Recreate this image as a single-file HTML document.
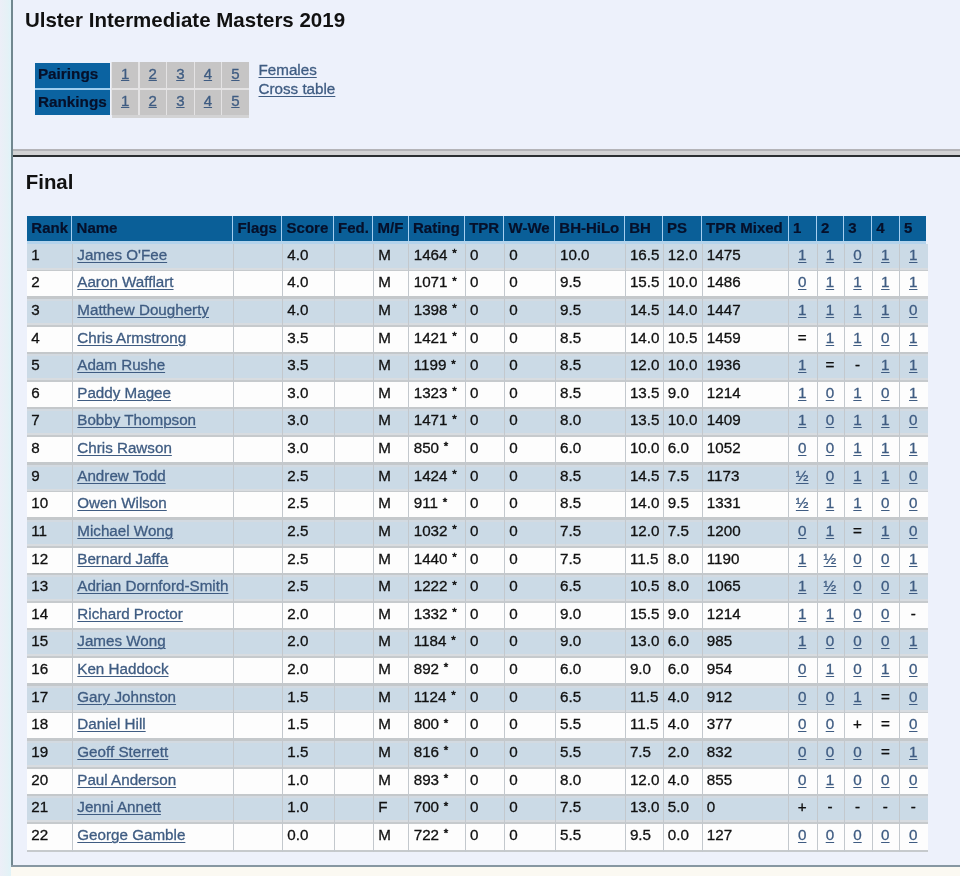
<!DOCTYPE html>
<html><head><meta charset="utf-8"><title>Ulster Intermediate Masters 2019</title>
<style>
*{margin:0;padding:0;box-sizing:border-box}
html,body{width:960px;height:876px;overflow:hidden;background:#fbf9f2}
body{position:relative;font-family:"Liberation Sans",sans-serif;color:#111}
.row .c, .links, #nav .g{-webkit-text-stroke:0.3px currentColor}
#strip{position:absolute;left:0;top:0;width:11px;height:876px;background:linear-gradient(90deg,#eceff8 0,#e6f1f6 60%,#e0f3f8 100%)}
#vline{position:absolute;left:11px;top:0;width:2px;height:867px;background:#71878f}
#content{position:absolute;left:13px;top:0;width:947px;height:865px;background:#edf1fb}
#bline{position:absolute;left:11px;top:865px;width:949px;height:2px;background:#8797a2}
#wrap{position:absolute;left:0;top:0;width:960px;height:876px;will-change:transform}
h1{position:absolute;font-size:20.4px;font-weight:bold;line-height:1;white-space:nowrap;color:#111}
#sep1{position:absolute;left:13px;top:149px;width:947px;height:1.5px;background:#b4b4b8}
#sep2{position:absolute;left:13px;top:150.5px;width:947px;height:4.7px;background:#d2d2d4}
#sep3{position:absolute;left:13px;top:155.2px;width:947px;height:1.8px;background:#2a2e32}
#nav{position:absolute;left:34.5px;top:62.5px;width:214.5px;height:55px}
#nav .b{position:absolute;left:0;width:75.7px;height:25.3px;background:#0b63a1;color:#06102a;-webkit-text-stroke:0.2px #06102a;font-weight:bold;font-size:15.3px;line-height:23px;padding-left:3.4px}
#nav .g{position:absolute;background:#c6c5c5;text-align:center;font-size:15px;line-height:22.5px}
#nav .gb{position:absolute;left:77.5px;top:52.3px;width:136.8px;height:3px;background:#d3d3d4}
#nav a{text-underline-offset:1.4px}
a{color:#3f5c82;text-decoration:underline;text-underline-offset:1.9px;text-decoration-thickness:1.2px}
.links{position:absolute;left:258.5px;font-size:15.2px;line-height:19.2px}
#tbl{position:absolute;left:27px;top:216px;width:901px;height:640px;}
.row{position:absolute;left:0;width:900.5px}
.row .c{position:absolute;top:0;height:24.625px;padding-left:4.3px;font-size:15.2px;line-height:22.6px;white-space:nowrap}
.row .c.r{text-align:center;padding-left:0;padding-right:1.4px}
.s{-webkit-text-stroke:0.35px #111}
.ast{font-size:11.5px;position:relative;top:-2.6px;left:0.6px;-webkit-text-stroke:0.5px #111}
.hdr{background:#0a5f98;width:899px;height:24.9px}
.hdr .c{font-weight:bold;color:#06102a;font-size:15px;height:24.9px;line-height:23.3px;-webkit-text-stroke:0.2px #06102a;border-left:1.4px solid #a6cff0}
.hdr .c:first-child{border-left:none}
.odd{background:linear-gradient(#d3dae1 0,#d3dae1 1.8px,#cbdae6 1.8px,#cbdae6 24.4px,#d8dce0 24.4px,#d8dce0 26.2px,#c6cacd 26.2px)}
.odd.first{background:linear-gradient(#cbdae6 0,#cbdae6 24.4px,#d8dce0 24.4px,#d8dce0 26.2px,#c6cacd 26.2px)}
.even{background:linear-gradient(#fdfdfd 0,#fdfdfd 25.3px,#c4c8cb 25.3px)}
.even.last{background:linear-gradient(#fdfdfd 0,#fdfdfd 25.9px,#c6cacd 25.9px,#c6cacd 28.4px,transparent 28.4px)}
.odd .c,.even .c{border-left:1px solid #c3c8cd;height:100%}
.odd .c:first-child,.even .c:first-child{border-left:none}
.hline{position:absolute;left:0;width:899px;background:#b3d3ec}
</style></head>
<body>
<div id="wrap">
<div id="strip"></div>
<div id="content"></div>
<div id="vline"></div>
<div id="bline"></div>
<h1 style="left:24.9px;top:9.9px;font-size:20.5px">Ulster Intermediate Masters 2019</h1>
<div id="nav">
<div style="position:absolute;left:0;top:24px;width:75.7px;height:5px;background:#9fcdee"></div>
<div style="position:absolute;left:76px;top:-0.5px;width:138.3px;height:53px;background:#e4e3e4"></div>
<div class="b" style="top:0;line-height:21px">Pairings</div>
<div class="b" style="top:27.6px;line-height:23px">Rankings</div>
<div class="g" style="left:77.50px;width:26.30px;top:-0.5px;height:26.1px;padding-top:1px"><a>1</a></div><div class="g" style="left:105.20px;width:26.00px;top:-0.5px;height:26.1px;padding-top:1px"><a>2</a></div><div class="g" style="left:132.60px;width:26.60px;top:-0.5px;height:26.1px;padding-top:1px"><a>3</a></div><div class="g" style="left:160.60px;width:25.60px;top:-0.5px;height:26.1px;padding-top:1px"><a>4</a></div><div class="g" style="left:187.60px;width:26.60px;top:-0.5px;height:26.1px;padding-top:1px"><a>5</a></div><div class="g" style="left:77.50px;width:26.30px;top:27.2px;height:25.3px;padding-top:0.3px"><a>1</a></div><div class="g" style="left:105.20px;width:26.00px;top:27.2px;height:25.3px;padding-top:0.3px"><a>2</a></div><div class="g" style="left:132.60px;width:26.60px;top:27.2px;height:25.3px;padding-top:0.3px"><a>3</a></div><div class="g" style="left:160.60px;width:25.60px;top:27.2px;height:25.3px;padding-top:0.3px"><a>4</a></div><div class="g" style="left:187.60px;width:26.60px;top:27.2px;height:25.3px;padding-top:0.3px"><a>5</a></div>
<div class="gb"></div>
</div>
<div class="links" style="top:59.5px"><a>Females</a><br><a>Cross table</a></div>
<div id="sep1"></div><div id="sep2"></div><div id="sep3"></div>
<h1 style="left:25.8px;top:171.5px;font-size:20.4px">Final</h1>
<div id="tbl">
<div class="hline" style="top:24.90px;height:3.2px"></div>
<div class="row hdr" style="top:0px"><div class="c" style="left:0.00px;width:44.30px">Rank</div><div class="c" style="left:44.30px;width:161.00px">Name</div><div class="c" style="left:205.30px;width:49.00px">Flags</div><div class="c" style="left:254.30px;width:51.50px">Score</div><div class="c" style="left:305.80px;width:39.50px">Fed.</div><div class="c" style="left:345.30px;width:35.40px">M/F</div><div class="c" style="left:380.70px;width:56.20px">Rating</div><div class="c" style="left:436.90px;width:39.40px">TPR</div><div class="c" style="left:476.30px;width:50.70px">W-We</div><div class="c" style="left:527.00px;width:69.90px">BH-HiLo</div><div class="c" style="left:596.90px;width:37.90px">BH</div><div class="c" style="left:634.80px;width:39.00px">PS</div><div class="c" style="left:673.80px;width:86.80px">TPR Mixed</div><div class="c" style="left:760.60px;width:28.20px">1</div><div class="c" style="left:788.80px;width:27.25px">2</div><div class="c" style="left:816.05px;width:27.95px">3</div><div class="c" style="left:844.00px;width:27.70px">4</div><div class="c" style="left:871.70px;width:27.30px">5</div></div>
<div class="row odd first" style="top:27.700px;height:27.625px"><div class="c" style="left:0.00px;width:45.00px">1</div><div class="c" style="left:45.00px;width:161.00px"><a>James O'Fee</a></div><div class="c" style="left:206.00px;width:49.00px"></div><div class="c" style="left:255.00px;width:51.50px">4.0</div><div class="c" style="left:306.50px;width:39.50px"></div><div class="c" style="left:346.00px;width:35.40px">M</div><div class="c" style="left:381.40px;width:56.20px">1464 <span class="ast">*</span></div><div class="c" style="left:437.60px;width:39.40px">0</div><div class="c" style="left:477.00px;width:50.70px">0</div><div class="c" style="left:527.70px;width:69.90px">10.0</div><div class="c" style="left:597.60px;width:37.90px">16.5</div><div class="c" style="left:635.50px;width:39.00px">12.0</div><div class="c" style="left:674.50px;width:86.80px">1475</div><div class="c r" style="left:761.30px;width:28.20px"><a>1</a></div><div class="c r" style="left:789.50px;width:27.25px"><a>1</a></div><div class="c r" style="left:816.75px;width:27.95px"><a>0</a></div><div class="c r" style="left:844.70px;width:27.70px"><a>1</a></div><div class="c r" style="left:872.40px;width:28.10px"><a>1</a></div></div>
<div class="row even" style="top:55.325px;height:27.625px"><div class="c" style="left:0.00px;width:45.00px">2</div><div class="c" style="left:45.00px;width:161.00px"><a>Aaron Wafflart</a></div><div class="c" style="left:206.00px;width:49.00px"></div><div class="c" style="left:255.00px;width:51.50px">4.0</div><div class="c" style="left:306.50px;width:39.50px"></div><div class="c" style="left:346.00px;width:35.40px">M</div><div class="c" style="left:381.40px;width:56.20px">1071 <span class="ast">*</span></div><div class="c" style="left:437.60px;width:39.40px">0</div><div class="c" style="left:477.00px;width:50.70px">0</div><div class="c" style="left:527.70px;width:69.90px">9.5</div><div class="c" style="left:597.60px;width:37.90px">15.5</div><div class="c" style="left:635.50px;width:39.00px">10.0</div><div class="c" style="left:674.50px;width:86.80px">1486</div><div class="c r" style="left:761.30px;width:28.20px"><a>0</a></div><div class="c r" style="left:789.50px;width:27.25px"><a>1</a></div><div class="c r" style="left:816.75px;width:27.95px"><a>1</a></div><div class="c r" style="left:844.70px;width:27.70px"><a>1</a></div><div class="c r" style="left:872.40px;width:28.10px"><a>1</a></div></div>
<div class="row odd" style="top:82.950px;height:27.625px"><div class="c" style="left:0.00px;width:45.00px">3</div><div class="c" style="left:45.00px;width:161.00px"><a>Matthew Dougherty</a></div><div class="c" style="left:206.00px;width:49.00px"></div><div class="c" style="left:255.00px;width:51.50px">4.0</div><div class="c" style="left:306.50px;width:39.50px"></div><div class="c" style="left:346.00px;width:35.40px">M</div><div class="c" style="left:381.40px;width:56.20px">1398 <span class="ast">*</span></div><div class="c" style="left:437.60px;width:39.40px">0</div><div class="c" style="left:477.00px;width:50.70px">0</div><div class="c" style="left:527.70px;width:69.90px">9.5</div><div class="c" style="left:597.60px;width:37.90px">14.5</div><div class="c" style="left:635.50px;width:39.00px">14.0</div><div class="c" style="left:674.50px;width:86.80px">1447</div><div class="c r" style="left:761.30px;width:28.20px"><a>1</a></div><div class="c r" style="left:789.50px;width:27.25px"><a>1</a></div><div class="c r" style="left:816.75px;width:27.95px"><a>1</a></div><div class="c r" style="left:844.70px;width:27.70px"><a>1</a></div><div class="c r" style="left:872.40px;width:28.10px"><a>0</a></div></div>
<div class="row even" style="top:110.575px;height:27.625px"><div class="c" style="left:0.00px;width:45.00px">4</div><div class="c" style="left:45.00px;width:161.00px"><a>Chris Armstrong</a></div><div class="c" style="left:206.00px;width:49.00px"></div><div class="c" style="left:255.00px;width:51.50px">3.5</div><div class="c" style="left:306.50px;width:39.50px"></div><div class="c" style="left:346.00px;width:35.40px">M</div><div class="c" style="left:381.40px;width:56.20px">1421 <span class="ast">*</span></div><div class="c" style="left:437.60px;width:39.40px">0</div><div class="c" style="left:477.00px;width:50.70px">0</div><div class="c" style="left:527.70px;width:69.90px">8.5</div><div class="c" style="left:597.60px;width:37.90px">14.0</div><div class="c" style="left:635.50px;width:39.00px">10.5</div><div class="c" style="left:674.50px;width:86.80px">1459</div><div class="c r" style="left:761.30px;width:28.20px"><span class="s">=</span></div><div class="c r" style="left:789.50px;width:27.25px"><a>1</a></div><div class="c r" style="left:816.75px;width:27.95px"><a>1</a></div><div class="c r" style="left:844.70px;width:27.70px"><a>0</a></div><div class="c r" style="left:872.40px;width:28.10px"><a>1</a></div></div>
<div class="row odd" style="top:138.200px;height:27.625px"><div class="c" style="left:0.00px;width:45.00px">5</div><div class="c" style="left:45.00px;width:161.00px"><a>Adam Rushe</a></div><div class="c" style="left:206.00px;width:49.00px"></div><div class="c" style="left:255.00px;width:51.50px">3.5</div><div class="c" style="left:306.50px;width:39.50px"></div><div class="c" style="left:346.00px;width:35.40px">M</div><div class="c" style="left:381.40px;width:56.20px">1199 <span class="ast">*</span></div><div class="c" style="left:437.60px;width:39.40px">0</div><div class="c" style="left:477.00px;width:50.70px">0</div><div class="c" style="left:527.70px;width:69.90px">8.5</div><div class="c" style="left:597.60px;width:37.90px">12.0</div><div class="c" style="left:635.50px;width:39.00px">10.0</div><div class="c" style="left:674.50px;width:86.80px">1936</div><div class="c r" style="left:761.30px;width:28.20px"><a>1</a></div><div class="c r" style="left:789.50px;width:27.25px"><span class="s">=</span></div><div class="c r" style="left:816.75px;width:27.95px"><span class="s">-</span></div><div class="c r" style="left:844.70px;width:27.70px"><a>1</a></div><div class="c r" style="left:872.40px;width:28.10px"><a>1</a></div></div>
<div class="row even" style="top:165.825px;height:27.625px"><div class="c" style="left:0.00px;width:45.00px">6</div><div class="c" style="left:45.00px;width:161.00px"><a>Paddy Magee</a></div><div class="c" style="left:206.00px;width:49.00px"></div><div class="c" style="left:255.00px;width:51.50px">3.0</div><div class="c" style="left:306.50px;width:39.50px"></div><div class="c" style="left:346.00px;width:35.40px">M</div><div class="c" style="left:381.40px;width:56.20px">1323 <span class="ast">*</span></div><div class="c" style="left:437.60px;width:39.40px">0</div><div class="c" style="left:477.00px;width:50.70px">0</div><div class="c" style="left:527.70px;width:69.90px">8.5</div><div class="c" style="left:597.60px;width:37.90px">13.5</div><div class="c" style="left:635.50px;width:39.00px">9.0</div><div class="c" style="left:674.50px;width:86.80px">1214</div><div class="c r" style="left:761.30px;width:28.20px"><a>1</a></div><div class="c r" style="left:789.50px;width:27.25px"><a>0</a></div><div class="c r" style="left:816.75px;width:27.95px"><a>1</a></div><div class="c r" style="left:844.70px;width:27.70px"><a>0</a></div><div class="c r" style="left:872.40px;width:28.10px"><a>1</a></div></div>
<div class="row odd" style="top:193.450px;height:27.625px"><div class="c" style="left:0.00px;width:45.00px">7</div><div class="c" style="left:45.00px;width:161.00px"><a>Bobby Thompson</a></div><div class="c" style="left:206.00px;width:49.00px"></div><div class="c" style="left:255.00px;width:51.50px">3.0</div><div class="c" style="left:306.50px;width:39.50px"></div><div class="c" style="left:346.00px;width:35.40px">M</div><div class="c" style="left:381.40px;width:56.20px">1471 <span class="ast">*</span></div><div class="c" style="left:437.60px;width:39.40px">0</div><div class="c" style="left:477.00px;width:50.70px">0</div><div class="c" style="left:527.70px;width:69.90px">8.0</div><div class="c" style="left:597.60px;width:37.90px">13.5</div><div class="c" style="left:635.50px;width:39.00px">10.0</div><div class="c" style="left:674.50px;width:86.80px">1409</div><div class="c r" style="left:761.30px;width:28.20px"><a>1</a></div><div class="c r" style="left:789.50px;width:27.25px"><a>0</a></div><div class="c r" style="left:816.75px;width:27.95px"><a>1</a></div><div class="c r" style="left:844.70px;width:27.70px"><a>1</a></div><div class="c r" style="left:872.40px;width:28.10px"><a>0</a></div></div>
<div class="row even" style="top:221.075px;height:27.625px"><div class="c" style="left:0.00px;width:45.00px">8</div><div class="c" style="left:45.00px;width:161.00px"><a>Chris Rawson</a></div><div class="c" style="left:206.00px;width:49.00px"></div><div class="c" style="left:255.00px;width:51.50px">3.0</div><div class="c" style="left:306.50px;width:39.50px"></div><div class="c" style="left:346.00px;width:35.40px">M</div><div class="c" style="left:381.40px;width:56.20px">850 <span class="ast">*</span></div><div class="c" style="left:437.60px;width:39.40px">0</div><div class="c" style="left:477.00px;width:50.70px">0</div><div class="c" style="left:527.70px;width:69.90px">6.0</div><div class="c" style="left:597.60px;width:37.90px">10.0</div><div class="c" style="left:635.50px;width:39.00px">6.0</div><div class="c" style="left:674.50px;width:86.80px">1052</div><div class="c r" style="left:761.30px;width:28.20px"><a>0</a></div><div class="c r" style="left:789.50px;width:27.25px"><a>0</a></div><div class="c r" style="left:816.75px;width:27.95px"><a>1</a></div><div class="c r" style="left:844.70px;width:27.70px"><a>1</a></div><div class="c r" style="left:872.40px;width:28.10px"><a>1</a></div></div>
<div class="row odd" style="top:248.700px;height:27.625px"><div class="c" style="left:0.00px;width:45.00px">9</div><div class="c" style="left:45.00px;width:161.00px"><a>Andrew Todd</a></div><div class="c" style="left:206.00px;width:49.00px"></div><div class="c" style="left:255.00px;width:51.50px">2.5</div><div class="c" style="left:306.50px;width:39.50px"></div><div class="c" style="left:346.00px;width:35.40px">M</div><div class="c" style="left:381.40px;width:56.20px">1424 <span class="ast">*</span></div><div class="c" style="left:437.60px;width:39.40px">0</div><div class="c" style="left:477.00px;width:50.70px">0</div><div class="c" style="left:527.70px;width:69.90px">8.5</div><div class="c" style="left:597.60px;width:37.90px">14.5</div><div class="c" style="left:635.50px;width:39.00px">7.5</div><div class="c" style="left:674.50px;width:86.80px">1173</div><div class="c r" style="left:761.30px;width:28.20px"><a>½</a></div><div class="c r" style="left:789.50px;width:27.25px"><a>0</a></div><div class="c r" style="left:816.75px;width:27.95px"><a>1</a></div><div class="c r" style="left:844.70px;width:27.70px"><a>1</a></div><div class="c r" style="left:872.40px;width:28.10px"><a>0</a></div></div>
<div class="row even" style="top:276.325px;height:27.625px"><div class="c" style="left:0.00px;width:45.00px">10</div><div class="c" style="left:45.00px;width:161.00px"><a>Owen Wilson</a></div><div class="c" style="left:206.00px;width:49.00px"></div><div class="c" style="left:255.00px;width:51.50px">2.5</div><div class="c" style="left:306.50px;width:39.50px"></div><div class="c" style="left:346.00px;width:35.40px">M</div><div class="c" style="left:381.40px;width:56.20px">911 <span class="ast">*</span></div><div class="c" style="left:437.60px;width:39.40px">0</div><div class="c" style="left:477.00px;width:50.70px">0</div><div class="c" style="left:527.70px;width:69.90px">8.5</div><div class="c" style="left:597.60px;width:37.90px">14.0</div><div class="c" style="left:635.50px;width:39.00px">9.5</div><div class="c" style="left:674.50px;width:86.80px">1331</div><div class="c r" style="left:761.30px;width:28.20px"><a>½</a></div><div class="c r" style="left:789.50px;width:27.25px"><a>1</a></div><div class="c r" style="left:816.75px;width:27.95px"><a>1</a></div><div class="c r" style="left:844.70px;width:27.70px"><a>0</a></div><div class="c r" style="left:872.40px;width:28.10px"><a>0</a></div></div>
<div class="row odd" style="top:303.950px;height:27.625px"><div class="c" style="left:0.00px;width:45.00px">11</div><div class="c" style="left:45.00px;width:161.00px"><a>Michael Wong</a></div><div class="c" style="left:206.00px;width:49.00px"></div><div class="c" style="left:255.00px;width:51.50px">2.5</div><div class="c" style="left:306.50px;width:39.50px"></div><div class="c" style="left:346.00px;width:35.40px">M</div><div class="c" style="left:381.40px;width:56.20px">1032 <span class="ast">*</span></div><div class="c" style="left:437.60px;width:39.40px">0</div><div class="c" style="left:477.00px;width:50.70px">0</div><div class="c" style="left:527.70px;width:69.90px">7.5</div><div class="c" style="left:597.60px;width:37.90px">12.0</div><div class="c" style="left:635.50px;width:39.00px">7.5</div><div class="c" style="left:674.50px;width:86.80px">1200</div><div class="c r" style="left:761.30px;width:28.20px"><a>0</a></div><div class="c r" style="left:789.50px;width:27.25px"><a>1</a></div><div class="c r" style="left:816.75px;width:27.95px"><span class="s">=</span></div><div class="c r" style="left:844.70px;width:27.70px"><a>1</a></div><div class="c r" style="left:872.40px;width:28.10px"><a>0</a></div></div>
<div class="row even" style="top:331.575px;height:27.625px"><div class="c" style="left:0.00px;width:45.00px">12</div><div class="c" style="left:45.00px;width:161.00px"><a>Bernard Jaffa</a></div><div class="c" style="left:206.00px;width:49.00px"></div><div class="c" style="left:255.00px;width:51.50px">2.5</div><div class="c" style="left:306.50px;width:39.50px"></div><div class="c" style="left:346.00px;width:35.40px">M</div><div class="c" style="left:381.40px;width:56.20px">1440 <span class="ast">*</span></div><div class="c" style="left:437.60px;width:39.40px">0</div><div class="c" style="left:477.00px;width:50.70px">0</div><div class="c" style="left:527.70px;width:69.90px">7.5</div><div class="c" style="left:597.60px;width:37.90px">11.5</div><div class="c" style="left:635.50px;width:39.00px">8.0</div><div class="c" style="left:674.50px;width:86.80px">1190</div><div class="c r" style="left:761.30px;width:28.20px"><a>1</a></div><div class="c r" style="left:789.50px;width:27.25px"><a>½</a></div><div class="c r" style="left:816.75px;width:27.95px"><a>0</a></div><div class="c r" style="left:844.70px;width:27.70px"><a>0</a></div><div class="c r" style="left:872.40px;width:28.10px"><a>1</a></div></div>
<div class="row odd" style="top:359.200px;height:27.625px"><div class="c" style="left:0.00px;width:45.00px">13</div><div class="c" style="left:45.00px;width:161.00px"><a>Adrian Dornford-Smith</a></div><div class="c" style="left:206.00px;width:49.00px"></div><div class="c" style="left:255.00px;width:51.50px">2.5</div><div class="c" style="left:306.50px;width:39.50px"></div><div class="c" style="left:346.00px;width:35.40px">M</div><div class="c" style="left:381.40px;width:56.20px">1222 <span class="ast">*</span></div><div class="c" style="left:437.60px;width:39.40px">0</div><div class="c" style="left:477.00px;width:50.70px">0</div><div class="c" style="left:527.70px;width:69.90px">6.5</div><div class="c" style="left:597.60px;width:37.90px">10.5</div><div class="c" style="left:635.50px;width:39.00px">8.0</div><div class="c" style="left:674.50px;width:86.80px">1065</div><div class="c r" style="left:761.30px;width:28.20px"><a>1</a></div><div class="c r" style="left:789.50px;width:27.25px"><a>½</a></div><div class="c r" style="left:816.75px;width:27.95px"><a>0</a></div><div class="c r" style="left:844.70px;width:27.70px"><a>0</a></div><div class="c r" style="left:872.40px;width:28.10px"><a>1</a></div></div>
<div class="row even" style="top:386.825px;height:27.625px"><div class="c" style="left:0.00px;width:45.00px">14</div><div class="c" style="left:45.00px;width:161.00px"><a>Richard Proctor</a></div><div class="c" style="left:206.00px;width:49.00px"></div><div class="c" style="left:255.00px;width:51.50px">2.0</div><div class="c" style="left:306.50px;width:39.50px"></div><div class="c" style="left:346.00px;width:35.40px">M</div><div class="c" style="left:381.40px;width:56.20px">1332 <span class="ast">*</span></div><div class="c" style="left:437.60px;width:39.40px">0</div><div class="c" style="left:477.00px;width:50.70px">0</div><div class="c" style="left:527.70px;width:69.90px">9.0</div><div class="c" style="left:597.60px;width:37.90px">15.5</div><div class="c" style="left:635.50px;width:39.00px">9.0</div><div class="c" style="left:674.50px;width:86.80px">1214</div><div class="c r" style="left:761.30px;width:28.20px"><a>1</a></div><div class="c r" style="left:789.50px;width:27.25px"><a>1</a></div><div class="c r" style="left:816.75px;width:27.95px"><a>0</a></div><div class="c r" style="left:844.70px;width:27.70px"><a>0</a></div><div class="c r" style="left:872.40px;width:28.10px"><span class="s">-</span></div></div>
<div class="row odd" style="top:414.450px;height:27.625px"><div class="c" style="left:0.00px;width:45.00px">15</div><div class="c" style="left:45.00px;width:161.00px"><a>James Wong</a></div><div class="c" style="left:206.00px;width:49.00px"></div><div class="c" style="left:255.00px;width:51.50px">2.0</div><div class="c" style="left:306.50px;width:39.50px"></div><div class="c" style="left:346.00px;width:35.40px">M</div><div class="c" style="left:381.40px;width:56.20px">1184 <span class="ast">*</span></div><div class="c" style="left:437.60px;width:39.40px">0</div><div class="c" style="left:477.00px;width:50.70px">0</div><div class="c" style="left:527.70px;width:69.90px">9.0</div><div class="c" style="left:597.60px;width:37.90px">13.0</div><div class="c" style="left:635.50px;width:39.00px">6.0</div><div class="c" style="left:674.50px;width:86.80px">985</div><div class="c r" style="left:761.30px;width:28.20px"><a>1</a></div><div class="c r" style="left:789.50px;width:27.25px"><a>0</a></div><div class="c r" style="left:816.75px;width:27.95px"><a>0</a></div><div class="c r" style="left:844.70px;width:27.70px"><a>0</a></div><div class="c r" style="left:872.40px;width:28.10px"><a>1</a></div></div>
<div class="row even" style="top:442.075px;height:27.625px"><div class="c" style="left:0.00px;width:45.00px">16</div><div class="c" style="left:45.00px;width:161.00px"><a>Ken Haddock</a></div><div class="c" style="left:206.00px;width:49.00px"></div><div class="c" style="left:255.00px;width:51.50px">2.0</div><div class="c" style="left:306.50px;width:39.50px"></div><div class="c" style="left:346.00px;width:35.40px">M</div><div class="c" style="left:381.40px;width:56.20px">892 <span class="ast">*</span></div><div class="c" style="left:437.60px;width:39.40px">0</div><div class="c" style="left:477.00px;width:50.70px">0</div><div class="c" style="left:527.70px;width:69.90px">6.0</div><div class="c" style="left:597.60px;width:37.90px">9.0</div><div class="c" style="left:635.50px;width:39.00px">6.0</div><div class="c" style="left:674.50px;width:86.80px">954</div><div class="c r" style="left:761.30px;width:28.20px"><a>0</a></div><div class="c r" style="left:789.50px;width:27.25px"><a>1</a></div><div class="c r" style="left:816.75px;width:27.95px"><a>0</a></div><div class="c r" style="left:844.70px;width:27.70px"><a>1</a></div><div class="c r" style="left:872.40px;width:28.10px"><a>0</a></div></div>
<div class="row odd" style="top:469.700px;height:27.625px"><div class="c" style="left:0.00px;width:45.00px">17</div><div class="c" style="left:45.00px;width:161.00px"><a>Gary Johnston</a></div><div class="c" style="left:206.00px;width:49.00px"></div><div class="c" style="left:255.00px;width:51.50px">1.5</div><div class="c" style="left:306.50px;width:39.50px"></div><div class="c" style="left:346.00px;width:35.40px">M</div><div class="c" style="left:381.40px;width:56.20px">1124 <span class="ast">*</span></div><div class="c" style="left:437.60px;width:39.40px">0</div><div class="c" style="left:477.00px;width:50.70px">0</div><div class="c" style="left:527.70px;width:69.90px">6.5</div><div class="c" style="left:597.60px;width:37.90px">11.5</div><div class="c" style="left:635.50px;width:39.00px">4.0</div><div class="c" style="left:674.50px;width:86.80px">912</div><div class="c r" style="left:761.30px;width:28.20px"><a>0</a></div><div class="c r" style="left:789.50px;width:27.25px"><a>0</a></div><div class="c r" style="left:816.75px;width:27.95px"><a>1</a></div><div class="c r" style="left:844.70px;width:27.70px"><span class="s">=</span></div><div class="c r" style="left:872.40px;width:28.10px"><a>0</a></div></div>
<div class="row even" style="top:497.325px;height:27.625px"><div class="c" style="left:0.00px;width:45.00px">18</div><div class="c" style="left:45.00px;width:161.00px"><a>Daniel Hill</a></div><div class="c" style="left:206.00px;width:49.00px"></div><div class="c" style="left:255.00px;width:51.50px">1.5</div><div class="c" style="left:306.50px;width:39.50px"></div><div class="c" style="left:346.00px;width:35.40px">M</div><div class="c" style="left:381.40px;width:56.20px">800 <span class="ast">*</span></div><div class="c" style="left:437.60px;width:39.40px">0</div><div class="c" style="left:477.00px;width:50.70px">0</div><div class="c" style="left:527.70px;width:69.90px">5.5</div><div class="c" style="left:597.60px;width:37.90px">11.5</div><div class="c" style="left:635.50px;width:39.00px">4.0</div><div class="c" style="left:674.50px;width:86.80px">377</div><div class="c r" style="left:761.30px;width:28.20px"><a>0</a></div><div class="c r" style="left:789.50px;width:27.25px"><a>0</a></div><div class="c r" style="left:816.75px;width:27.95px"><span class="s">+</span></div><div class="c r" style="left:844.70px;width:27.70px"><span class="s">=</span></div><div class="c r" style="left:872.40px;width:28.10px"><a>0</a></div></div>
<div class="row odd" style="top:524.950px;height:27.625px"><div class="c" style="left:0.00px;width:45.00px">19</div><div class="c" style="left:45.00px;width:161.00px"><a>Geoff Sterrett</a></div><div class="c" style="left:206.00px;width:49.00px"></div><div class="c" style="left:255.00px;width:51.50px">1.5</div><div class="c" style="left:306.50px;width:39.50px"></div><div class="c" style="left:346.00px;width:35.40px">M</div><div class="c" style="left:381.40px;width:56.20px">816 <span class="ast">*</span></div><div class="c" style="left:437.60px;width:39.40px">0</div><div class="c" style="left:477.00px;width:50.70px">0</div><div class="c" style="left:527.70px;width:69.90px">5.5</div><div class="c" style="left:597.60px;width:37.90px">7.5</div><div class="c" style="left:635.50px;width:39.00px">2.0</div><div class="c" style="left:674.50px;width:86.80px">832</div><div class="c r" style="left:761.30px;width:28.20px"><a>0</a></div><div class="c r" style="left:789.50px;width:27.25px"><a>0</a></div><div class="c r" style="left:816.75px;width:27.95px"><a>0</a></div><div class="c r" style="left:844.70px;width:27.70px"><span class="s">=</span></div><div class="c r" style="left:872.40px;width:28.10px"><a>1</a></div></div>
<div class="row even" style="top:552.575px;height:27.625px"><div class="c" style="left:0.00px;width:45.00px">20</div><div class="c" style="left:45.00px;width:161.00px"><a>Paul Anderson</a></div><div class="c" style="left:206.00px;width:49.00px"></div><div class="c" style="left:255.00px;width:51.50px">1.0</div><div class="c" style="left:306.50px;width:39.50px"></div><div class="c" style="left:346.00px;width:35.40px">M</div><div class="c" style="left:381.40px;width:56.20px">893 <span class="ast">*</span></div><div class="c" style="left:437.60px;width:39.40px">0</div><div class="c" style="left:477.00px;width:50.70px">0</div><div class="c" style="left:527.70px;width:69.90px">8.0</div><div class="c" style="left:597.60px;width:37.90px">12.0</div><div class="c" style="left:635.50px;width:39.00px">4.0</div><div class="c" style="left:674.50px;width:86.80px">855</div><div class="c r" style="left:761.30px;width:28.20px"><a>0</a></div><div class="c r" style="left:789.50px;width:27.25px"><a>1</a></div><div class="c r" style="left:816.75px;width:27.95px"><a>0</a></div><div class="c r" style="left:844.70px;width:27.70px"><a>0</a></div><div class="c r" style="left:872.40px;width:28.10px"><a>0</a></div></div>
<div class="row odd" style="top:580.200px;height:27.625px"><div class="c" style="left:0.00px;width:45.00px">21</div><div class="c" style="left:45.00px;width:161.00px"><a>Jenni Annett</a></div><div class="c" style="left:206.00px;width:49.00px"></div><div class="c" style="left:255.00px;width:51.50px">1.0</div><div class="c" style="left:306.50px;width:39.50px"></div><div class="c" style="left:346.00px;width:35.40px">F</div><div class="c" style="left:381.40px;width:56.20px">700 <span class="ast">*</span></div><div class="c" style="left:437.60px;width:39.40px">0</div><div class="c" style="left:477.00px;width:50.70px">0</div><div class="c" style="left:527.70px;width:69.90px">7.5</div><div class="c" style="left:597.60px;width:37.90px">13.0</div><div class="c" style="left:635.50px;width:39.00px">5.0</div><div class="c" style="left:674.50px;width:86.80px">0</div><div class="c r" style="left:761.30px;width:28.20px"><span class="s">+</span></div><div class="c r" style="left:789.50px;width:27.25px"><span class="s">-</span></div><div class="c r" style="left:816.75px;width:27.95px"><span class="s">-</span></div><div class="c r" style="left:844.70px;width:27.70px"><span class="s">-</span></div><div class="c r" style="left:872.40px;width:28.10px"><span class="s">-</span></div></div>
<div class="row even last" style="top:607.825px;height:28.425px"><div class="c" style="left:0.00px;width:45.00px">22</div><div class="c" style="left:45.00px;width:161.00px"><a>George Gamble</a></div><div class="c" style="left:206.00px;width:49.00px"></div><div class="c" style="left:255.00px;width:51.50px">0.0</div><div class="c" style="left:306.50px;width:39.50px"></div><div class="c" style="left:346.00px;width:35.40px">M</div><div class="c" style="left:381.40px;width:56.20px">722 <span class="ast">*</span></div><div class="c" style="left:437.60px;width:39.40px">0</div><div class="c" style="left:477.00px;width:50.70px">0</div><div class="c" style="left:527.70px;width:69.90px">5.5</div><div class="c" style="left:597.60px;width:37.90px">9.5</div><div class="c" style="left:635.50px;width:39.00px">0.0</div><div class="c" style="left:674.50px;width:86.80px">127</div><div class="c r" style="left:761.30px;width:28.20px"><a>0</a></div><div class="c r" style="left:789.50px;width:27.25px"><a>0</a></div><div class="c r" style="left:816.75px;width:27.95px"><a>0</a></div><div class="c r" style="left:844.70px;width:27.70px"><a>0</a></div><div class="c r" style="left:872.40px;width:28.10px"><a>0</a></div></div>
</div>
</div>
</body></html>
